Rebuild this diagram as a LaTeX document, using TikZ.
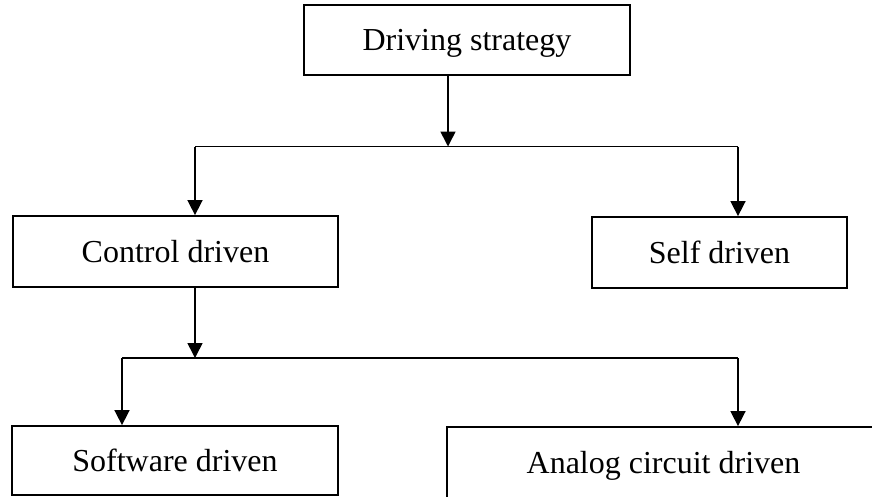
\documentclass[tikz,border=0pt]{standalone}
\usepackage{fontspec}
\setmainfont{Liberation Serif}
\usetikzlibrary{arrows.meta}
\begin{document}
\begin{tikzpicture}[x=1pt,y=-1pt,
  box/.style={draw, line width=1.8pt, rectangle, inner sep=0pt,
    font=\fontsize{32}{36}\selectfont, text height=24pt, text depth=3pt},
  link/.style={line width=1.6pt},
  arr/.style={link, -{Triangle[length=15pt,width=15pt]}}]
\useasboundingbox (0,0) rectangle (872,496);
\clip (0,0) rectangle (872,496);

% boxes
\node[box, minimum width=326pt, minimum height=70pt] (strategy) at (467,40) {Driving strategy};
\node[box, minimum width=325pt, minimum height=71pt] (control) at (175.5,251.5) {Control driven};
\node[box, minimum width=255pt, minimum height=71pt] (self) at (719.5,252.5) {Self driven};
\node[box, minimum width=326pt, minimum height=69pt] (software) at (175,460.5) {Software driven};
\node[box, minimum width=433pt, minimum height=72pt] (analog) at (663.5,463) {Analog circuit driven};

% junction points of the branch lines
\coordinate (j1) at (448,146.5);
\coordinate (a1) at (195,146.5);
\coordinate (b1) at (738,146.5);
\coordinate (j2) at (195,358);
\coordinate (a2) at (122,358);
\coordinate (b2) at (738,358);

% first level
\draw[arr] (strategy.south -| j1) -- (j1);
\draw[link] (a1) -- (b1);
\draw[arr] (a1) -- (a1 |- control.north);
\draw[arr] (b1) -- (b1 |- self.north);

% second level
\draw[arr] (control.south -| j2) -- (j2);
\draw[link] (a2) -- (b2);
\draw[arr] (a2) -- (a2 |- software.north);
\draw[arr] (b2) -- (b2 |- analog.north);
\end{tikzpicture}
\end{document}
